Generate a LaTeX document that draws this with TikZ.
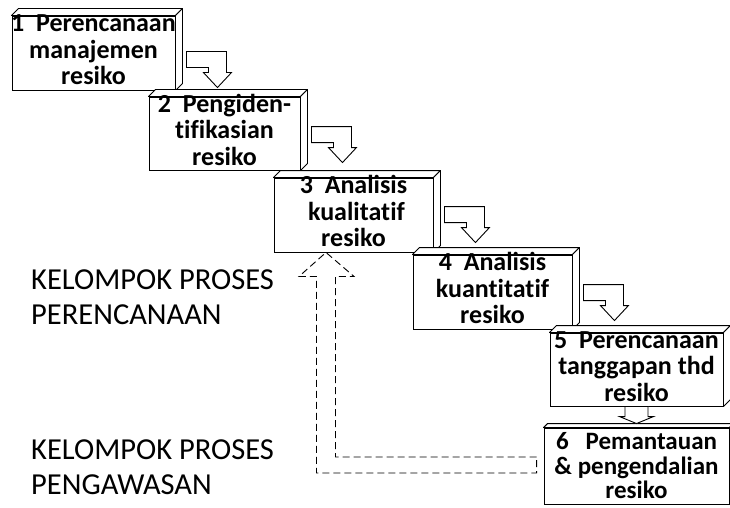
\documentclass[tikz,border=0pt]{standalone}
\usepackage{fontspec}
\setmainfont{Carlito}[Ligatures=NoCommon]
\usetikzlibrary{calc}
\newcommand\cubefaces[2]{%
  \draw[cubeface] (#1.north west) -- ++(#2,-#2) -- ($(#1.north east)+(#2,-#2)$) -- (#1.north east) -- cycle;
  \draw[cubeface] (#1.north east) -- ++(#2,-#2) -- ($(#1.south east)+(#2,-#2)$) -- (#1.south east) -- cycle;
}
% bent block arrow: from node, to node, vertical offset of shaft top, gap above target
\newcommand\bentarrow[4]{%
  \draw[blockarrow] let \p1=($(#1.north east)+(11,#3)$), \p2=(#2.north) in
    (\x1,\y1) -- (\x1+40pt,\y1) -- (\x1+40pt,\y2+22pt+#4pt) -- (\x1+45pt,\y2+22pt+#4pt)
    -- (\x1+31pt,\y2+7pt+#4pt) -- (\x1+17pt,\y2+22pt+#4pt) -- (\x1+22pt,\y2+22pt+#4pt)
    -- (\x1+22pt,\y1-16pt) -- (\x1,\y1-16pt) -- cycle;
}
\begin{document}
\begin{tikzpicture}[x=1pt,y=-1pt,
  cubebox/.style={draw=black, line width=0.9pt, fill=white, inner sep=0pt, rectangle},
  cubeface/.style={draw=black, line width=0.9pt, fill=white, line join=round},
  boxtext/.style={inner sep=0pt, align=center, font=\fontsize{26}{26.5}\selectfont\bfseries},
  grouptext/.style={inner sep=0pt, align=left, anchor=north west, font=\fontsize{30.5}{35}\selectfont},
  blockarrow/.style={draw=black, line width=0.9pt, fill=white, line join=miter},
  dasharrow/.style={draw=black, line width=0.9pt, dash pattern=on 7pt off 4pt, line join=miter}
]
\useasboundingbox (0,0) rectangle (730,508);
\clip (0,0) rectangle (730,508);

% boxes (front faces)
\node[cubebox, minimum width=163pt, minimum height=74pt] (b1) at (93.5,53) {};
\node[cubebox, minimum width=151pt, minimum height=73pt] (b2) at (224.5,133.5) {};
\node[cubebox, minimum width=159pt, minimum height=74pt] (b3) at (353.5,215) {};
\node[cubebox, minimum width=159pt, minimum height=74pt] (b4) at (492.5,292) {};
\node[cubebox, minimum width=173pt, minimum height=73pt] (b5) at (636.5,369.5) {};
\node[cubebox, minimum width=185pt, minimum height=76pt] (b6) at (636.5,466) {};

\cubefaces{b1}{7}
\cubefaces{b2}{7}
\cubefaces{b3}{7}
\cubefaces{b4}{7}
\cubefaces{b5}{7}
\cubefaces{b6}{4}

% texts
\node[boxtext] (t1) at (b1.center) {\strut 1~~Perencanaan\\manajemen\\resiko\strut};
\node[boxtext] (t2) at (b2.center) {\strut 2~~Pengiden-\\tifikasian\\resiko\strut};
\node[boxtext] (t3) at (b3.center) {\strut 3~~Analisis\\~kualitatif\\resiko\strut};
\node[boxtext] (t4) at (b4.center) {\strut 4~~Analisis\\kuantitatif\\resiko\strut};
\node[boxtext] (t5) at (b5.center) {\strut 5~~Perencanaan\\tanggapan thd\\resiko\strut};
\node[boxtext, font=\fontsize{25}{24}\selectfont\bfseries] (t6) at ($(b6.center)+(0,3)$) {\strut 6~~~Pemantauan\\\&~pengendalian\\resiko\strut};

% block arrows
\bentarrow{b1}{b2}{36}{2}
\bentarrow{b2}{b3}{30}{8}
\bentarrow{b3}{b4}{29}{5}
\bentarrow{b4}{b5}{30}{5}

\draw[blockarrow] let \p1=(b5.south), \p2=(b6.north) in
  (\x1-11.5pt,\y1) -- (\x1+11.5pt,\y1) -- (\x1+11.5pt,\y2+11pt) -- (\x1+17pt,\y2+11pt)
  -- (\x1,\y2+4pt) -- (\x1-17pt,\y2+11pt) -- (\x1-11.5pt,\y2+11pt) -- cycle;

% dashed feedback arrow
\draw[dasharrow] let \p1=(b6.west), \p2=($(b3.south)+(-27.5,0)$) in
  (\x1-7pt,\y1+9pt) -- (\x2+9.5pt,\y1+9pt) -- (\x2+9.5pt,\y2-24pt) -- (\x2+28pt,\y2-24pt)
  -- (\x2,\y2) -- (\x2-27pt,\y2-24pt) -- (\x2-9.5pt,\y2-24pt) -- (\x2-9.5pt,\y1-7pt)
  -- (\x1-7pt,\y1-7pt) -- cycle;

% group labels
\node[grouptext] (k1) at (31,264.5) {\strut KELOMPOK PROSES\\PERENCANAAN};
\node[grouptext] (k2) at (31,434.5) {\strut KELOMPOK PROSES\\PENGAWASAN};
\end{tikzpicture}
\end{document}
